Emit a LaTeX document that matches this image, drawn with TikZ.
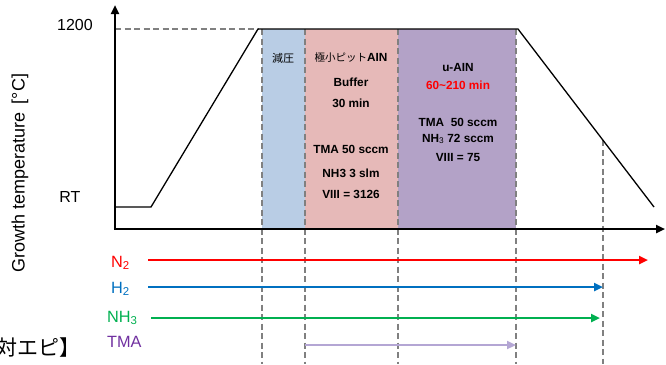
\documentclass[tikz,border=0pt]{standalone}
\usepackage{fontspec}
\setmainfont{Liberation Sans}
\newfontfamily\jpfont{Noto Sans CJK JP}
\usetikzlibrary{arrows.meta}
\definecolor{boxblue}{RGB}{185,205,229}
\definecolor{boxpink}{RGB}{230,185,184}
\definecolor{boxpurple}{RGB}{179,162,199}
\definecolor{dashgray}{RGB}{128,128,128}
\definecolor{gasred}{RGB}{255,0,0}
\definecolor{gasblue}{RGB}{0,112,192}
\definecolor{gasgreen}{RGB}{0,176,80}
\definecolor{gastma}{RGB}{180,166,212}
\definecolor{tmatext}{RGB}{112,48,160}
\begin{document}
\begin{tikzpicture}[x=1pt,y=-1pt,
  guide/.style={dashgray,line width=2pt,dash pattern=on 6pt off 3.5pt},
  axisline/.style={black,line width=2.4pt,-{Triangle[length=9pt,width=8pt]}},
  profile/.style={black,line width=1.3pt},
  gas/.style={line width=2.6pt,-{Triangle[length=9pt,width=8pt]}},
  lbl/.style={inner sep=0pt,font=\fontsize{16}{16}\selectfont},
  gaslbl/.style={inner sep=0pt,font=\fontsize{16.3}{16.3}\selectfont},
  boxtxt/.style={inner sep=0pt,font=\bfseries\fontsize{11.8}{11.8}\selectfont},
  jptxt/.style={inner sep=0pt,font=\jpfont\fontsize{11}{11}\selectfont}]
\useasboundingbox (0,0) rectangle (666,364);
% coordinates
\coordinate (o) at (115,229);
\coordinate (ytop) at (115,5);
\coordinate (xend) at (665,229);
\coordinate (rt0) at (115,207);
\coordinate (rt1) at (151,207);
\coordinate (top0) at (258,29);
\coordinate (top1) at (518,29);
\coordinate (endc) at (654,207);
\coordinate (hi) at (115,29);
% boxes
\fill[boxblue] (262,29) rectangle (305,229);
\fill[boxpink] (305,29) rectangle (398,229);
\fill[boxpurple] (398,29) rectangle (516,229);
% guides
\coordinate (g1t) at (262,29); \coordinate (g1b) at (262,364);
\coordinate (g2t) at (305,29); \coordinate (g2b) at (305,364);
\coordinate (g3t) at (398,29); \coordinate (g3b) at (398,364);
\coordinate (g4t) at (516,29); \coordinate (g4b) at (516,364);
\coordinate (g5t) at (603,140); \coordinate (g5b) at (603,364);
\draw[guide] (hi) -- (top0);
\foreach \i in {1,...,5} \draw[guide] (g\i t) -- (g\i b);
% profile
\draw[profile] (rt0) -- (rt1) -- (top0) -- (top1) -- (endc);
% axes
\draw[axisline] (o) -- (ytop);
\draw[axisline] ([xshift=-1.2pt]o) -- (xend);
% axis labels
\node[lbl] (l1200) at (75,25) {1200};
\node[lbl] (lrt) at (70,197) {RT};
\node[inner sep=0pt,rotate=90,font=\fontsize{18}{18}\selectfont] (ylab) at (20,173) {Growth temperature \,[°C]};
% box texts
\node[jptxt] (t1) at (283,58) {減圧};
\node[inner sep=0pt,font=\fontsize{11.8}{11.8}\selectfont] (t2) at (351,58) {{\jpfont\fontsize{10.5}{10.5}\selectfont 極小ピット}\textbf{AIN}};
\node[boxtxt] (t3) at (351,82) {Buffer};
\node[boxtxt] (t4) at (351,103) {30 min};
\node[boxtxt] (t5) at (351,149) {TMA 50 sccm};
\node[boxtxt] (t6) at (351,173) {NH3 3 slm};
\node[boxtxt] (t7) at (351,194) {VIII = 3126};
\node[boxtxt] (u1) at (458,67) {u-AIN};
\node[boxtxt,text=gasred] (u2) at (458,85) {60\textasciitilde210 min};
\node[boxtxt] (u3) at (458,122) {TMA\ \ 50 sccm};
\node[boxtxt] (u4) at (458,139) {NH$_{\mathrm{3}}$ 72 sccm};
\node[boxtxt] (u5) at (458,157) {VIII = 75};
% gas lines
\coordinate (n2a) at (148,260); \coordinate (n2b) at (648,260);
\coordinate (h2a) at (148,287); \coordinate (h2b) at (603,287);
\coordinate (nha) at (151,318); \coordinate (nhb) at (600,318);
\coordinate (tma) at (305,345); \coordinate (tmb) at (516,345);
\draw[gas,gasred] (n2a) -- (n2b);
\draw[gas,gasblue] (h2a) -- (h2b);
\draw[gas,gasgreen] (nha) -- (nhb);
\draw[gas,gastma,line width=2.2pt] (tma) -- (tmb);
\node[gaslbl,text=gasred,anchor=west] (ln2) at (111,263) {N\textsubscript{2}};
\node[gaslbl,text=gasblue,anchor=west] (lh2) at (111,289) {H\textsubscript{2}};
\node[gaslbl,text=gasgreen,anchor=west] (lnh3) at (107,318) {NH\textsubscript{3}};
\node[gaslbl,text=tmatext,anchor=west] (ltma) at (107,342) {TMA};
% cut-off title (cut at the left edge, as in the reference)
\node[inner sep=0pt,anchor=west,font=\jpfont\fontsize{21}{21}\selectfont] (cut) at (-4,348) {対エピ】};
\end{tikzpicture}
\end{document}
